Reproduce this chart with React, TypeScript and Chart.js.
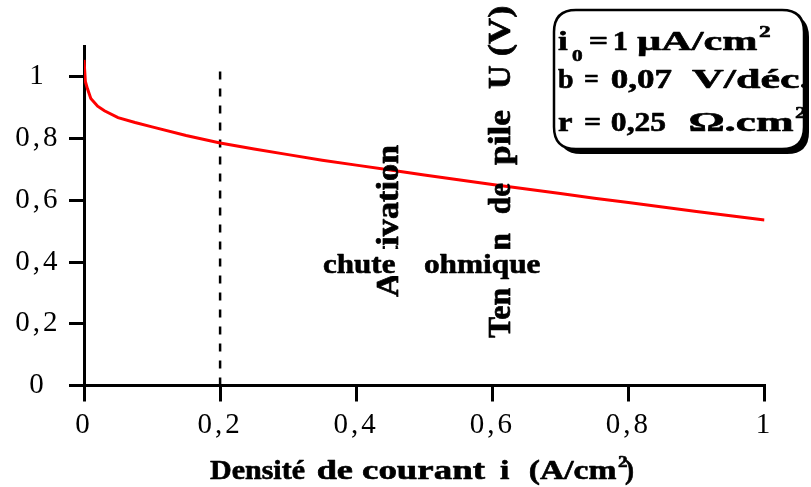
import React, { useEffect, useRef } from "react";
import { Chart, registerables } from "chart.js";

Chart.register(...registerables);

// Current density i (A/cm2) and cell voltage U (V)
const currentDensity = [0, 0.002, 0.005, 0.01, 0.02, 0.03, 0.05, 0.075, 0.1, 0.15, 0.2, 0.25, 0.3, 0.35, 0.4, 0.45, 0.5, 0.55, 0.6, 0.65, 0.7, 0.75, 0.8, 0.85, 0.9, 0.95, 1.0];
const cellVoltage = [1.055, 0.985, 0.962, 0.93, 0.905, 0.89, 0.868, 0.852, 0.838, 0.81, 0.786, 0.766, 0.748, 0.73, 0.714, 0.698, 0.682, 0.667, 0.651, 0.637, 0.622, 0.607, 0.593, 0.578, 0.564, 0.55, 0.536];

// Dashed marker at i = 0.2
const markerX = [0.2, 0.2];
const markerY = [0, 1.045];

const xTickValues = [0, 0.2, 0.4, 0.6, 0.8, 1];
const yTickValues = [0, 0.2, 0.4, 0.6, 0.8, 1];

const xTitleWords = ["Densité", "de", "courant", "i", "(A/cm", "2", ")"];
const yTitleWords = ["Tension", "de", "pile", "U", "(V)"];
const activationLabel = "Activation";
const ohmicWords = ["chute", "ohmique"];
const paramLine1 = ["i", "0", "=", "1", "µA/cm", "2"];
const paramLine2 = ["b", "=", "0,07", "V/déc."];
const paramLine3 = ["r", "=", "0,25", "Ω.cm", "2"];

const SERIF = '"Liberation Serif", "Times New Roman", serif';

function fmt(v: number): string {
  return String(Number(v.toFixed(1))).replace(".", ",");
}

function setFont(ctx: any, size: number, bold: boolean) {
  ctx.font = `${bold ? "bold " : ""}${size}px ${SERIF}`;
  ctx.letterSpacing = "0px";
  ctx.textAlign = "left";
  ctx.textBaseline = "alphabetic";
}

// Draw text so that its ink spans [x0, x1] horizontally, baseline at y; sy stretches glyph height
function hFit(ctx: any, s: string, x0: number, x1: number, y: number, size: number, sy = 1, bold = true) {
  setFont(ctx, size, bold);
  const m = ctx.measureText(s);
  const ink = m.actualBoundingBoxLeft + m.actualBoundingBoxRight;
  const sx = (x1 - x0) / ink;
  ctx.save();
  ctx.translate(x0, y);
  ctx.scale(sx, sy);
  ctx.fillStyle = "#000";
  ctx.strokeStyle = "#000";
  ctx.lineWidth = 0.6;
  ctx.lineJoin = "round";
  ctx.fillText(s, m.actualBoundingBoxLeft, 0);
  ctx.strokeText(s, m.actualBoundingBoxLeft, 0);
  ctx.restore();
}

// Vertical (reading bottom to top): ink spans from yBottom up to yTop, baseline at x
function vFit(ctx: any, s: string, yBottom: number, yTop: number, x: number, size: number, sh = 1) {
  ctx.save();
  ctx.translate(x, 0);
  ctx.rotate(-Math.PI / 2);
  hFit(ctx, s, -yBottom, -yTop, 0, size, sh);
  ctx.restore();
}

function maskRect(ctx: any, x0: number, x1: number, yTop: number, yBottom: number) {
  ctx.fillStyle = "#fff";
  ctx.fillRect(x0, yTop, x1 - x0, yBottom - yTop);
}

function roundRect(ctx: any, x: number, y: number, w: number, h: number, r: number) {
  ctx.beginPath();
  ctx.moveTo(x + r, y);
  ctx.lineTo(x + w - r, y);
  ctx.quadraticCurveTo(x + w, y, x + w, y + r);
  ctx.lineTo(x + w, y + h - r);
  ctx.quadraticCurveTo(x + w, y + h, x + w - r, y + h);
  ctx.lineTo(x + r, y + h);
  ctx.quadraticCurveTo(x, y + h, x, y + h - r);
  ctx.lineTo(x, y + r);
  ctx.quadraticCurveTo(x, y, x + r, y);
  ctx.closePath();
}

const annotations = {
  id: "annotations",
  beforeDraw(chart: any) {
    chart.ctx.letterSpacing = "3px";
  },
  afterDraw(chart: any) {
    const ctx = chart.ctx;
    ctx.save();
    ctx.letterSpacing = "0px";

    // Vertical labels
    vFit(ctx, activationLabel, 297, 145, 398, 27, 1.2);
    const Y = yTitleWords;
    vFit(ctx, Y[0], 338, 233, 510, 27, 1.2);
    vFit(ctx, Y[1], 213, 183, 510, 27, 1.2);
    vFit(ctx, Y[2], 165, 110, 510, 27, 1.2);
    vFit(ctx, Y[3], 89, 66, 510, 27, 1.2);
    vFit(ctx, Y[4], 55, 7, 510, 27, 1.2);

    // "chute ohmique" with white background over the vertical labels
    maskRect(ctx, 321, 400, 249, 276);
    maskRect(ctx, 423, 542, 249, 288);
    hFit(ctx, ohmicWords[0], 323, 395, 273, 28);
    hFit(ctx, ohmicWords[1], 425, 540, 273, 28);

    // X-axis title
    const X = xTitleWords;
    hFit(ctx, X[0], 210, 305, 479, 27);
    hFit(ctx, X[1], 318, 353, 479, 27);
    hFit(ctx, X[2], 362, 485, 479, 27);
    hFit(ctx, X[3], 500, 510, 479, 27);
    hFit(ctx, X[4], 530, 617, 479, 27);
    hFit(ctx, X[5], 618, 627, 467, 17);
    hFit(ctx, X[6], 625, 633, 479, 27);

    // Parameter box with shadow
    ctx.fillStyle = "#000";
    roundRect(ctx, 559, 15, 250, 139, 22);
    ctx.fill();
    ctx.fillStyle = "#fff";
    roundRect(ctx, 554, 10, 250, 139, 22);
    ctx.fill();
    ctx.lineWidth = 2.5;
    ctx.strokeStyle = "#000";
    ctx.stroke();

    const A = paramLine1;
    hFit(ctx, A[0], 558, 568, 50, 28);
    hFit(ctx, A[1], 572, 582, 61, 17);
    hFit(ctx, A[2], 590, 607, 50, 28);
    hFit(ctx, A[3], 615, 627, 50, 28);
    hFit(ctx, A[4], 637, 757, 50, 28);
    hFit(ctx, A[5], 759, 770, 37, 17);
    const B = paramLine2;
    hFit(ctx, B[0], 558, 573, 88, 28);
    hFit(ctx, B[1], 585, 598, 88, 28);
    hFit(ctx, B[2], 612, 672, 88, 28);
    hFit(ctx, B[3], 692, 809, 88, 28);
    const C = paramLine3;
    hFit(ctx, C[0], 558, 572, 131, 28);
    hFit(ctx, C[1], 585, 600, 131, 28);
    hFit(ctx, C[2], 612, 665, 131, 28);
    hFit(ctx, C[3], 690, 793, 131, 28);
    hFit(ctx, C[4], 795, 806, 118, 17);

    ctx.restore();
  },
};

export default function App() {
  const ref = useRef<HTMLCanvasElement | null>(null);

  useEffect(() => {
    if (!ref.current) return;
    const curve = currentDensity.map((x, k) => ({ x, y: cellVoltage[k] }));
    const marker = markerX.map((x, k) => ({ x, y: markerY[k] }));
    const tickFont = { family: SERIF, size: 29 };
    const chart = new Chart(ref.current, {
      type: "scatter",
      data: {
        datasets: [
          {
            data: curve,
            showLine: true,
            borderColor: "#ff0000",
            borderWidth: 3,
            pointRadius: 0,
            tension: 0,
            fill: false,
          },
          {
            data: marker,
            showLine: true,
            borderColor: "#000",
            borderWidth: 2.5,
            borderDash: [8, 9],
            pointRadius: 0,
            fill: false,
          },
        ],
      },
      options: {
        animation: false,
        responsive: false,
        devicePixelRatio: 1,
        layout: { padding: { top: 46, right: 46.5, left: 0, bottom: 0 } },
        plugins: { legend: { display: false }, tooltip: { enabled: false }, title: { display: false } },
        scales: {
          x: {
            type: "linear",
            min: 0,
            max: 1,
            afterBuildTicks: (s: any) => {
              s.ticks = xTickValues.map((v) => ({ value: v }));
            },
            afterFit: (s: any) => {
              s.height = 101.5;
            },
            ticks: {
              callback: (v: any) => fmt(Number(v)),
              font: tickFont,
              color: "#000",
              padding: 6,
              maxRotation: 0,
              autoSkip: false,
            },
            grid: { drawOnChartArea: false, drawTicks: true, tickLength: 16, color: "#000", lineWidth: 3 },
            border: { display: true, color: "#000", width: 3 },
          },
          y: {
            type: "linear",
            min: 0,
            max: 1.1,
            afterBuildTicks: (s: any) => {
              s.ticks = yTickValues.map((v) => ({ value: v }));
            },
            afterFit: (s: any) => {
              s.width = 84;
            },
            ticks: {
              callback: (v: any) => fmt(Number(v)),
              font: tickFont,
              color: "#000",
              padding: 13,
              crossAlign: "center",
              autoSkip: false,
            },
            grid: { drawOnChartArea: false, drawTicks: true, tickLength: 15, color: "#000", lineWidth: 3 },
            border: { display: true, color: "#000", width: 3 },
          },
        },
      },
      plugins: [annotations],
    } as any);
    return () => chart.destroy();
  }, []);

  return (
    <div style={{ position: "absolute", left: 0, top: 0, width: 811, height: 487, background: "#fff" }}>
      <canvas ref={ref} width={811} height={487} style={{ width: 811, height: 487, display: "block" }} />
    </div>
  );
}
